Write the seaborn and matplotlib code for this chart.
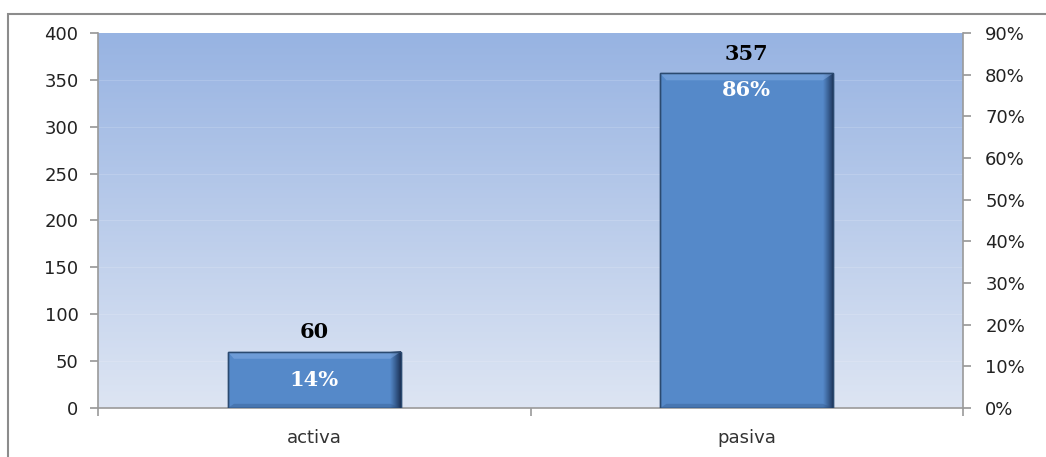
import matplotlib
matplotlib.use("Agg")
import matplotlib.pyplot as plt
import seaborn as sns
import numpy as np
import pandas as pd
from matplotlib.patches import Rectangle, Polygon
from matplotlib.colors import LinearSegmentedColormap
from matplotlib.ticker import FuncFormatter

categories = ["activa", "pasiva"]
counts = [60, 357]
percent_labels = ["14%", "86%"]
left_ticks = [0, 50, 100, 150, 200, 250, 300, 350, 400]
right_ticks = [0.0, 0.1, 0.2, 0.3, 0.4, 0.5, 0.6, 0.7, 0.8, 0.9]

sns.set_theme(style="white")
plt.rcParams['font.family'] = ['DejaVu Sans']

W, H = 1046, 457
fig = plt.figure(figsize=(W / 100, H / 100), dpi=100)
ax = fig.add_axes([98 / W, 1 - 408 / H, (963 - 98) / W, (408 - 33) / H])

df = pd.DataFrame({"cat": categories, "n": counts})
sns.barplot(data=df, x="cat", y="n", ax=ax, color="#5589C9", width=0.4,
            saturation=1, edgecolor="#2B4A70", linewidth=1.0, zorder=3)

ax.set_xlim(-0.5, 1.5)
ax.set_ylim(0, 400)
ax.set_yticks(left_ticks)
ax.set_xlabel("")
ax.set_ylabel("")

# background gradient
bg = LinearSegmentedColormap.from_list("bg", ["#DDE5F3", "#97B3E2"])
grad = np.linspace(0, 1, 256).reshape(-1, 1)
ax.imshow(grad, cmap=bg, aspect="auto", origin="lower",
          extent=[-0.5, 1.5, 0, 400], zorder=0)
for t in left_ticks[1:-1]:
    ax.axhline(t, color="white", alpha=0.15, lw=0.8, zorder=1)

# bevel effects derived from bar patches
shade = LinearSegmentedColormap.from_list("sh", [(0.1, 0.2, 0.35, 0.0), (0.08, 0.15, 0.28, 0.9)])
for p in ax.patches:
    x0, y0 = p.get_x(), p.get_y()
    w, h = p.get_width(), p.get_height()
    sw = w * 0.06
    ax.imshow(np.linspace(0, 1, 64).reshape(1, -1), cmap=shade, aspect="auto",
              extent=[x0 + w - sw, x0 + w, y0, y0 + h], zorder=4)
    th = 7 * 400 / 375
    ax.add_patch(Polygon([[x0, y0 + h], [x0 + w, y0 + h], [x0 + w - sw, y0 + h - th],
                          [x0 + sw * 0.6, y0 + h - th]], closed=True,
                         facecolor="#8DB4EA", alpha=0.45, edgecolor="none", zorder=5))
    ax.add_patch(Polygon([[x0, y0], [x0 + w, y0], [x0 + w - sw, y0 + th * 0.6],
                          [x0 + sw * 0.6, y0 + th * 0.6]], closed=True,
                         facecolor="#2F5487", alpha=0.35, edgecolor="none", zorder=5))
    ax.add_patch(Rectangle((x0, y0), w, h, facecolor="none", edgecolor="#2B4A70",
                           lw=1.0, zorder=6))
ax.set_xlim(-0.5, 1.5)
ax.set_ylim(0, 400)

# labels
for i, (c, pl) in enumerate(zip(counts, percent_labels)):
    ax.text(i, c + 10, str(c), ha="center", va="bottom", fontsize=15,
            fontweight="bold", family="DejaVu Serif", color="black", zorder=7)
    ypos = c / 2 if c < 100 else c - 18
    ax.text(i, ypos, pl, ha="center", va="center", fontsize=15,
            fontweight="bold", family="DejaVu Serif", color="white", zorder=7)

# spines and ticks
for s in ["top", "right"]:
    ax.spines[s].set_visible(False)
ax.spines["left"].set_color("#9A9A9A")
ax.spines["bottom"].set_color("#9A9A9A")
ax.spines["left"].set_linewidth(1.2)
ax.spines["bottom"].set_linewidth(1.2)
ax.tick_params(axis="y", which="major", left=True, length=6, color="#9A9A9A",
               labelsize=13, labelcolor="#222222", pad=8)
ax.tick_params(axis="x", which="major", bottom=False, labelsize=13,
               labelcolor="#333333", pad=9)
ax.set_xticks([0, 1])
ax.set_xticklabels(categories)
ax.set_xticks([-0.5, 0.5, 1.5], minor=True)
ax.tick_params(axis="x", which="minor", bottom=True, length=6, color="#9A9A9A", width=1.2)

ax2 = ax.twinx()
ax2.set_ylim(0, 0.9)
ax2.set_yticks(right_ticks)
ax2.yaxis.set_major_formatter(FuncFormatter(lambda v, _: f"{v*100:.0f}%"))
for s in ["top", "left", "bottom"]:
    ax2.spines[s].set_visible(False)
ax2.spines["right"].set_color("#9A9A9A")
ax2.spines["right"].set_linewidth(1.2)
ax2.tick_params(axis="y", right=True, length=6, color="#9A9A9A",
                labelsize=13, labelcolor="#222222", pad=10)
ax2.grid(False)

# outer chart border
fig.patches.append(Rectangle((8 / W, -0.2), 1.2, 1 - 14 / H + 0.2,
                             transform=fig.transFigure, facecolor="none",
                             edgecolor="#8C8C8C", lw=1.5, clip_on=False))

fig.savefig("out.png", dpi=100)
